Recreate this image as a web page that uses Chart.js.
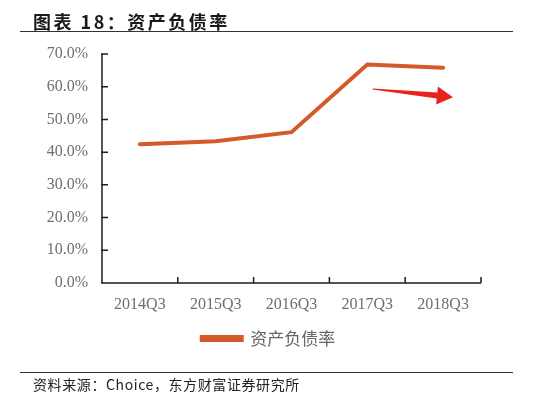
<!DOCTYPE html>
<html>
<head>
<meta charset="utf-8">
<script src="https://cdn.jsdelivr.net/npm/chart.js@4.4.1/dist/chart.umd.min.js"></script>
<style>
  html, body { margin: 0; padding: 0; background: #fff; }
  #wrap { position: relative; width: 550px; height: 396px; overflow: hidden; }
  #chart { position: absolute; left: 0; top: 0; }
  .title {
    position: absolute; left: 33px; top: 8px; line-height: 18px;
    font: bold 18px "Noto Sans CJK SC", sans-serif; letter-spacing: 2.5px; color: #1a1a1a;
    white-space: nowrap;
  }
  .rule { position: absolute; left: 20px; width: 493px; height: 0; border-top: 1.5px solid #333; }
  .source {
    position: absolute; left: 33px; top: 374px; line-height: 14px;
    font: 14px "Noto Sans CJK SC", sans-serif; letter-spacing: 0.6px; color: #222;
    white-space: nowrap;
  }
</style>
</head>
<body>
<div id="wrap">
  <canvas id="chart" width="550" height="396"></canvas>
  <div class="title">图表 18：资产负债率</div>
  <div class="rule" style="top:31px"></div>
  <div class="rule" style="top:372px"></div>
  <div class="source">资料来源：Choice，东方财富证券研究所</div>
</div>
<script>
// ===== Dữ liệu: tỷ lệ nợ trên tài sản (%) =====
const quarters = ["2014Q3", "2015Q3", "2016Q3", "2017Q3", "2018Q3"];
const debtRatio = [42.4, 43.3, 46.1, 66.8, 65.8];
const yTicks = [0, 10, 20, 30, 40, 50, 60, 70];
const seriesName = "资产负债率";
// mũi tên đỏ (vị trí theo trục: chỉ số hạng mục, %)
const arrowX = [3.07, 4.13];
const arrowY = [59.3, 56.8];

const LINE_COLOR = "#D4592B";

// dời chú thích sang phải một chút cho giống bản gốc
const legendShift = {
  id: "legendShift",
  afterLayout(chart) {
    if (!chart.legend) return;
    chart.legend.left += 28;
    chart.legend.right += 28;
  },
};

// vẽ trục, vạch chia hướng vào trong và mũi tên
const decor = {
  id: "decor",
  afterDatasetsDraw(chart) {
    const { ctx, chartArea: a, scales: { x, y } } = chart;
    ctx.save();
    ctx.strokeStyle = "#1e1e1e";
    ctx.lineWidth = 1.5;
    ctx.beginPath();
    ctx.moveTo(a.left, a.top);
    ctx.lineTo(a.left, a.bottom);
    ctx.lineTo(a.right, a.bottom);
    y.ticks.forEach((t, i) => {
      const py = y.getPixelForTick(i);
      ctx.moveTo(a.left - 1, py);
      ctx.lineTo(a.left + 6, py);
    });
    const n = x.ticks.length;
    for (let i = 1; i <= n; i++) {
      const px = a.left + ((a.right - a.left) * i) / n;
      ctx.moveTo(px, a.bottom);
      ctx.lineTo(px, a.bottom - 6);
    }
    ctx.stroke();

    // mũi tên
    const tx = x.getPixelForValue(arrowX[0]), ty = y.getPixelForValue(arrowY[0]);
    const hx = x.getPixelForValue(arrowX[1]), hy = y.getPixelForValue(arrowY[1]);
    const len = Math.hypot(hx - tx, hy - ty);
    const ux = (hx - tx) / len, uy = (hy - ty) / len;
    const nx = -uy, ny = ux;
    const bx = hx - ux * 16, by = hy - uy * 16;
    const pts = [
      [tx + nx * 0.6, ty + ny * 0.6],
      [bx + nx * 3, by + ny * 3],
      [bx + nx * 9, by + ny * 9],
      [hx, hy],
      [bx - nx * 9, by - ny * 9],
      [bx - nx * 3, by - ny * 3],
      [tx - nx * 0.6, ty - ny * 0.6],
    ];
    ctx.fillStyle = "#E8231C";
    ctx.beginPath();
    pts.forEach((p, i) => (i ? ctx.lineTo(p[0], p[1]) : ctx.moveTo(p[0], p[1])));
    ctx.closePath();
    ctx.fill();
    ctx.restore();
  },
};

new Chart(document.getElementById("chart"), {
  type: "line",
  data: {
    labels: quarters,
    datasets: [
      {
        label: seriesName,
        data: debtRatio,
        borderColor: LINE_COLOR,
        backgroundColor: LINE_COLOR,
        borderWidth: 4,
        borderCapStyle: "round",
        borderJoinStyle: "miter",
        pointRadius: 0,
        tension: 0,
      },
    ],
  },
  options: {
    responsive: false,
    animation: false,
    layout: { padding: { left: 0, right: 69, top: 54, bottom: 39 } },
    plugins: {
      tooltip: { enabled: false },
      legend: {
        position: "bottom",
        labels: {
          boxWidth: 40,
          boxHeight: 3,
          padding: 10,
          color: "#666",
          font: { family: "'Noto Sans CJK SC'", size: 17 },
        },
      },
    },
    scales: {
      x: {
        offset: true,
        grid: { display: false, drawTicks: false },
        border: { display: false },
        ticks: {
          padding: 12,
          color: "#6e6e6e",
          font: { family: "'Liberation Serif'", size: 16 },
        },
        afterFit(scale) { scale.height = 37; },
      },
      y: {
        min: yTicks[0],
        max: yTicks[yTicks.length - 1],
        grid: { display: false, drawTicks: false },
        border: { display: false },
        ticks: {
          stepSize: yTicks[1] - yTicks[0],
          padding: 14,
          color: "#6e6e6e",
          font: { family: "'Liberation Serif'", size: 16 },
          callback: (v) => Number(v).toFixed(1) + "%",
        },
        afterFit(scale) { scale.width = 102; },
      },
    },
  },
  plugins: [legendShift, decor],
});
</script>
</body>
</html>
